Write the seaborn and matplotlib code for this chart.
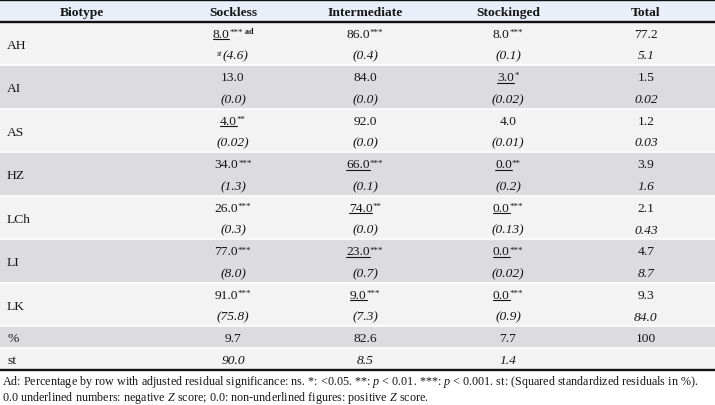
"""
Biotype x sock type table, drawn as a shaded seaborn heatmap with text cells
"""

import numpy as np
import matplotlib
matplotlib.use("Agg")
import matplotlib.pyplot as plt
import matplotlib.transforms as mtransforms
from matplotlib.colors import ListedColormap
from matplotlib.lines import Line2D
import seaborn as sns

# ---- data ----
columns = ["Biotype", "Sockless", "Intermediate", "Stockinged", "Total"]
biotypes = ["AH", "AI", "AS", "HZ", "LCh", "LI", "LK"]

sockless = ["8.0", "13.0", "4.0", "34.0", "26.0", "77.0", "91.0"]
sockless_sig = ["***", "", "**", "***", "***", "***", "***"]
sockless_neg = [True, False, True, False, False, False, False]
sockless_st = ["4.6", "0.0", "0.02", "1.3", "0.3", "8.0", "75.8"]

intermediate = ["86.0", "84.0", "92.0", "66.0", "74.0", "23.0", "9.0"]
intermediate_sig = ["***", "", "", "***", "**", "***", "***"]
intermediate_neg = [False, False, False, True, True, True, True]
intermediate_st = ["0.4", "0.0", "0.0", "0.1", "0.0", "0.7", "7.3"]

stockinged = ["8.0", "3.0", "4.0", "0.0", "0.0", "0.0", "0.0"]
stockinged_sig = ["***", "*", "", "**", "***", "***", "***"]
stockinged_neg = [False, True, False, True, True, True, True]
stockinged_st = ["0.1", "0.02", "0.01", "0.2", "0.13", "0.02", "0.9"]

total = ["77.2", "1.5", "1.2", "3.9", "2.1", "4.7", "9.3"]
total_st = ["5.1", "0.02", "0.03", "1.6", "0.43", "8.7", "84.0"]

pct_row = ["9.7", "82.6", "7.7", "100"]
st_row = ["90.0", "8.5", "1.4", ""]

footnote_1 = ("Ad: Percentage by row with adjusted residual significance: ns. *: <0.05. "
              "**: $p$ < 0.01. ***: $p$ < 0.001. st: (Squared standardized residuals in %).")
footnote_2 = "0.0 underlined numbers: negative $Z$ score; 0.0: non-underlined figures: positive $Z$ score."

# ---- style ----
sns.set_theme(style="white")
plt.rcParams["font.family"] = ["Liberation Serif", "DejaVu Serif"]
plt.rcParams["mathtext.fontset"] = "custom"
plt.rcParams["mathtext.rm"] = "Liberation Serif"
plt.rcParams["mathtext.it"] = "Liberation Serif:italic"

ink = "#161616"
light, gray, head = "#f3f3f4", "#dcdcde", "#e8eff8"
fs, fs_sup, fs_note = 9.7, 6.4, 8.75
W, H = 715, 406
col_x = [c / W for c in (82, 233, 365, 508, 646)]
label_x = 7 / W

fig = plt.figure(figsize=(W / 100, H / 100), dpi=100)
fig.patch.set_facecolor("white")
ax = fig.add_axes([0, 35 / H, 1, 370 / H])

# one row for the header, two per biotype, one each for % and st
shade = [2] + sum([[i % 2] * 2 for i in range(len(biotypes))], []) + [1, 0]
sns.heatmap(np.array(shade)[:, None], cmap=ListedColormap([light, gray, head]),
            vmin=0, vmax=2, cbar=False, xticklabels=False, yticklabels=False, ax=ax)
ax.set_xlabel("")
ax.set_ylabel("")
n = len(shade)

# separators
for y in [1 + 2 * i for i in range(1, len(biotypes) + 1)] + [n - 1]:
    ax.axhline(y, color="white", lw=1.2)
for y in (0, 1, n):
    ax.axhline(y, color="#111111", lw=1.7, clip_on=False)

blend = mtransforms.blended_transform_factory(ax.transAxes, ax.transData)
items = []


def cell(x, y, parts, ha="center", under=False):
    arts = []
    for txt, size, style, weight, rise in parts:
        a = ax.annotate(txt, xy=(x, y), xycoords=blend, xytext=(0, -4 + rise),
                        textcoords="offset pixels", ha="left", va="baseline",
                        fontsize=size, fontstyle=style, fontweight=weight, color=ink)
        arts.append(a)
    items.append((x, y, arts, ha, under))


def value(txt, sig="", neg=False, extra=None):
    parts = [(txt, fs, "normal", "normal", 0)]
    if sig:
        parts.append((sig, fs_sup, "normal", "normal", 2.8))
    if extra:
        parts.append((extra, fs_sup - 0.6, "normal", "bold", 3.2))
    return parts, neg


# header
for x, name in zip(col_x, columns):
    cell(x, 0.5, [(name, fs, "normal", "bold", 0)])

groups = [
    (sockless, sockless_sig, sockless_neg, sockless_st),
    (intermediate, intermediate_sig, intermediate_neg, intermediate_st),
    (stockinged, stockinged_sig, stockinged_neg, stockinged_st),
]
for i, bio in enumerate(biotypes):
    top = 1 + 2 * i
    cell(label_x, top + 1, [(bio, fs, "normal", "normal", 0)], ha="left")
    for j, (vals, sigs, negs, sts) in enumerate(groups):
        extra = " ad" if (i == 0 and j == 0) else None
        parts, neg = value(vals[i], sigs[i], negs[i], extra)
        cell(col_x[j + 1], top + 0.5, parts, under=neg)
        st_parts = [("(" + sts[i] + ")", fs, "italic", "normal", 0)]
        if i == 0 and j == 0:
            st_parts.insert(0, ("st", fs_sup - 0.6, "italic", "normal", 3.2))
        cell(col_x[j + 1], top + 1.5, st_parts)
    cell(col_x[4], top + 0.5, [(total[i], fs, "normal", "normal", 0)])
    cell(col_x[4], top + 1.5, [(total_st[i], fs, "italic", "normal", 0)])

cell(label_x, n - 1.5, [("%", fs, "normal", "normal", 0)], ha="left")
cell(label_x, n - 0.5, [("st", fs, "normal", "normal", 0)], ha="left")
for k in range(4):
    cell(col_x[k + 1], n - 1.5, [(pct_row[k], fs, "normal", "normal", 0)])
    if st_row[k]:
        cell(col_x[k + 1], n - 0.5, [(st_row[k], fs, "italic", "normal", 0)])

fig.text(2 / W, 1 - 382.5 / H, footnote_1, fontsize=fs_note, color=ink, va="center")
fig.text(2 / W, 1 - 398.5 / H, footnote_2, fontsize=fs_note, color=ink, va="center")

# lay out the composite cells now that text widths are known
fig.canvas.draw()
r = fig.canvas.get_renderer()
to_fig = fig.transFigure.inverted()
for x, y, arts, ha, under in items:
    widths = [a.get_window_extent(r).width for a in arts]
    start = -sum(widths) / 2 if ha == "center" else 0
    off = start
    for a, w in zip(arts, widths):
        a.xyann = (off, a.xyann[1])
        off += w
    if under:
        X, Y = blend.transform((x, y))
        p0 = to_fig.transform((X + start, Y - 6.5))
        p1 = to_fig.transform((X + start + widths[0], Y - 6.5))
        fig.add_artist(Line2D([p0[0], p1[0]], [p0[1], p1[1]], color=ink, lw=0.8))

fig.savefig("out.png", dpi=100)
